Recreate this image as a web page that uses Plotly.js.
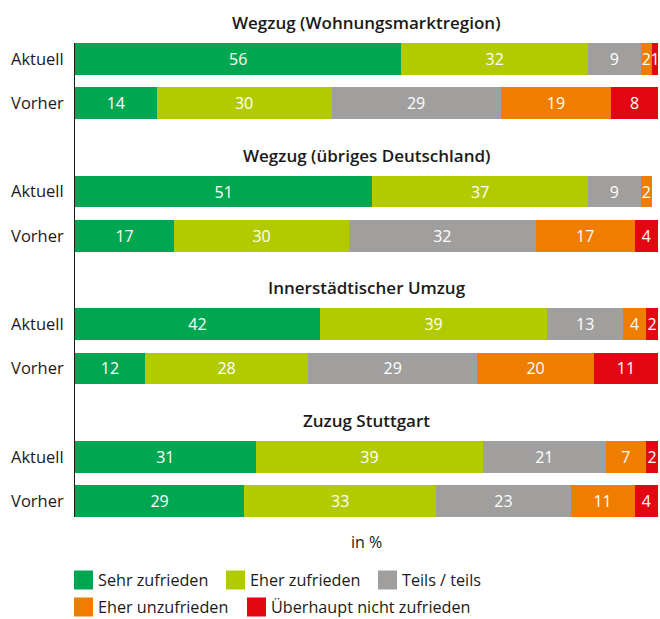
<!DOCTYPE html>
<html>
<head>
<meta charset="utf-8">
<script src="https://cdn.plot.ly/plotly-3.0.1.min.js"></script>
<style>html,body{margin:0;padding:0;background:#fff;}#chart{width:660px;height:619px;}</style>
</head>
<body>
<div id="chart"></div>
<script>
// ---- data ----
const groupTitles = ["Wegzug (Wohnungsmarktregion)", "Wegzug (übriges Deutschland)", "Innerstädtischer Umzug", "Zuzug Stuttgart"];
const rowLabels = ["Aktuell", "Vorher", "Aktuell", "Vorher", "Aktuell", "Vorher", "Aktuell", "Vorher"];
const seriesNames = ["Sehr zufrieden", "Eher zufrieden", "Teils / teils", "Eher unzufrieden", "Überhaupt nicht zufrieden"];
const sehrZufrieden     = [56, 14, 51, 17, 42, 12, 31, 29];
const eherZufrieden     = [32, 30, 37, 30, 39, 28, 39, 33];
const teilsTeils        = [9, 29, 9, 32, 13, 29, 21, 23];
const eherUnzufrieden   = [2, 19, 2, 17, 4, 20, 7, 11];
const ueberhauptNicht   = [1, 8, null, 4, 2, 11, 2, 4];
const axisTitle = "in %";

// ---- styling ----
const colors = ["#00a650", "#b2cb00", "#a09f9e", "#ef7d00", "#e30613"];
const FONT = "Open Sans, Noto Sans, sans-serif";
const TXT = "#1a1a1a";

// row positions: two bars per group, one empty slot for the group title
const rowPos = rowLabels.map((_, i) => Math.floor(i / 2) * 3 + (i % 2));
const barW = 0.72;
const yTop = -barW / 2, yBot = rowPos[rowPos.length - 1] + barW / 2;

const allSeries = [sehrZufrieden, eherZufrieden, teilsTeils, eherUnzufrieden, ueberhauptNicht];
const traces = allSeries.map((vals, k) => ({
  type: "bar",
  orientation: "h",
  name: seriesNames[k],
  x: vals,
  y: rowPos,
  width: barW,
  marker: {color: colors[k], line: {width: 0}},
  text: vals.map(v => v == null ? "" : String(v)),
  textposition: "inside",
  insidetextanchor: "middle",
  constraintext: "none",
  textfont: {color: "#ffffff", size: 16, family: FONT},
  hoverinfo: "name+x",
  showlegend: false
}));

const toPaperY = yv => (yBot - yv) / (yBot - yTop);

const annotations = groupTitles.map((t, g) => ({
  text: t,
  xref: "paper", yref: "paper",
  x: 0.5, y: toPaperY(g * 3 - 0.82),
  xanchor: "center", yanchor: "middle",
  showarrow: false,
  font: {family: FONT, size: 17, color: TXT, weight: 600}
}));

// custom legend (flow layout, two rows)
const plotL = 75, plotR = 658, plotT = 43, plotB = 517;
const pw = plotR - plotL, ph = plotB - plotT;
const px2x = p => (p - plotL) / pw;
const px2y = p => (plotB - p) / ph;
const legendPos = [
  {sx: 74, cy: 580}, {sx: 226, cy: 580}, {sx: 378, cy: 580},
  {sx: 74, cy: 607}, {sx: 247, cy: 607}
];
const shapes = [];
seriesNames.forEach((n, k) => {
  const p = legendPos[k];
  shapes.push({
    type: "rect", xref: "paper", yref: "paper",
    x0: px2x(p.sx), x1: px2x(p.sx + 19),
    y0: px2y(p.cy - 9.5), y1: px2y(p.cy + 9.5),
    fillcolor: colors[k], line: {width: 0}
  });
  annotations.push({
    text: n, xref: "paper", yref: "paper",
    x: px2x(p.sx + 22), y: px2y(p.cy),
    xanchor: "left", yanchor: "middle", showarrow: false,
    font: {family: FONT, size: 16.2, color: TXT}
  });
});

const layout = {
  width: 660, height: 619,
  margin: {l: plotL, r: 660 - plotR, t: plotT, b: 619 - plotB, pad: 0},
  paper_bgcolor: "#ffffff", plot_bgcolor: "#ffffff",
  barmode: "stack",
  bargap: 0,
  font: {family: FONT, color: TXT},
  xaxis: {
    range: [0, 100], showgrid: false, zeroline: false, showline: false,
    showticklabels: false, ticks: "", fixedrange: true,
    title: {text: axisTitle, font: {size: 16, color: TXT, family: FONT}, standoff: 19}
  },
  yaxis: {
    range: [yBot, yTop], showgrid: false, zeroline: false,
    showline: true, linecolor: "#1a1a1a", linewidth: 1,
    tickvals: rowPos, ticktext: rowLabels, ticks: "",
    ticklabelstandoff: 7,
    tickfont: {size: 16.5, color: TXT, family: FONT}, fixedrange: true
  },
  annotations: annotations,
  shapes: shapes,
  showlegend: false
};

Plotly.newPlot("chart", traces, layout, {displayModeBar: false, staticPlot: true});
</script>
</body>
</html>
